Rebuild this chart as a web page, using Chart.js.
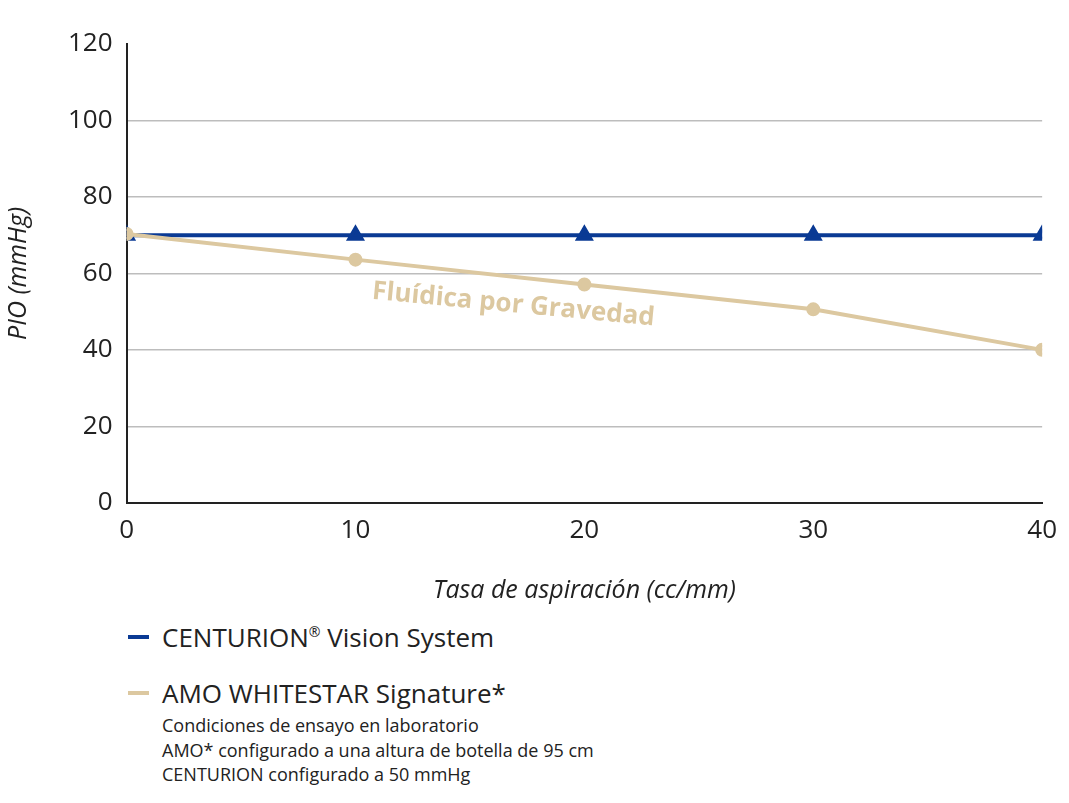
<!DOCTYPE html>
<html><head><meta charset="utf-8">
<script src="https://cdn.jsdelivr.net/npm/chart.js@4"></script>
<style>
body{margin:0;background:#fff;font-family:"Open Sans",sans-serif;}
#wrap{position:absolute;left:0;top:0;width:1069px;height:610px;}
.leg{position:absolute;left:128px;color:#222;}
.sw{position:absolute;left:0;width:21px;height:4px;}
.lt{position:absolute;left:34px;font-size:26px;white-space:nowrap;}
.sm{position:absolute;left:34px;font-size:18px;line-height:24.5px;white-space:nowrap;}
</style></head><body>
<div id="wrap"><canvas id="c"></canvas></div>
<div class="leg" style="top:619px"><div class="sw" style="top:16px;background:#0a3a94"></div><div class="lt" style="top:0">CENTURION<sup style="font-size:14px">®</sup> Vision System</div></div>
<div class="leg" style="top:675px"><div class="sw" style="top:16px;background:#dcc8a0"></div><div class="lt" style="top:0">AMO WHITESTAR Signature*</div>
<div class="sm" style="top:38px">Condiciones de ensayo en laboratorio<br>AMO* configurado a una altura de botella de 95 cm<br>CENTURION configurado a 50 mmHg</div></div>
<script>
const categories=[0,10,20,30,40];
const centurion=[70,70,70,70,70];
const amo=[70.3,63.6,57.1,50.6,40];
const yTicks=[0,20,40,60,80,100,120];
const blue='#0a3a94', beige='#dcc8a0';
const labelPlugin={id:'lbl',afterDatasetsDraw(ch){const c=ch.ctx,x=ch.scales.x,y=ch.scales.y;
c.save();c.translate(x.getPixelForValue(16.9),y.getPixelForValue(51.8));c.rotate(0.095);
c.font='bold 26px "Open Sans"';c.fillStyle=beige;c.textAlign='center';c.textBaseline='middle';
c.fillText('Fluídica por Gravedad',0,0);c.restore();}};
new Chart(document.getElementById('c'),{type:'line',
data:{datasets:[
{data:categories.map((v,i)=>({x:v,y:amo[i]})),borderColor:beige,backgroundColor:beige,borderWidth:4,pointRadius:5,pointStyle:'circle'},
{data:categories.map((v,i)=>({x:v,y:centurion[i]})),borderColor:blue,backgroundColor:blue,borderWidth:4,pointRadius:7,pointStyle:'triangle'}]},
options:{responsive:true,maintainAspectRatio:false,animation:false,
layout:{padding:{top:44,right:2,left:0,bottom:0}},
plugins:{legend:{display:false},tooltip:{enabled:false}},
scales:{
x:{type:'linear',min:0,max:40,afterBuildTicks:a=>{a.ticks=categories.map(v=>({value:v}))},
grid:{display:false,drawTicks:false},border:{color:'#222',width:2},
ticks:{color:'#222',font:{size:26,family:'Open Sans'},padding:12},
title:{display:true,text:'Tasa de aspiración (cc/mm)',color:'#222',font:{size:25,style:'italic',family:'Open Sans'},padding:{top:18}}},
y:{min:0,max:120,afterBuildTicks:a=>{a.ticks=yTicks.map(v=>({value:v}))},
grid:{color:c=>c.tick.value===120||c.tick.value===0?'rgba(0,0,0,0)':'#bdbdbd',lineWidth:1.5,drawTicks:false},
border:{color:'#222',width:2},
ticks:{color:'#222',font:{size:26,family:'Open Sans'},padding:14},
title:{display:true,text:'PIO (mmHg)',color:'#222',font:{size:25,style:'italic',family:'Open Sans'},padding:{bottom:20}}}}},
plugins:[labelPlugin]});
</script></body></html>
